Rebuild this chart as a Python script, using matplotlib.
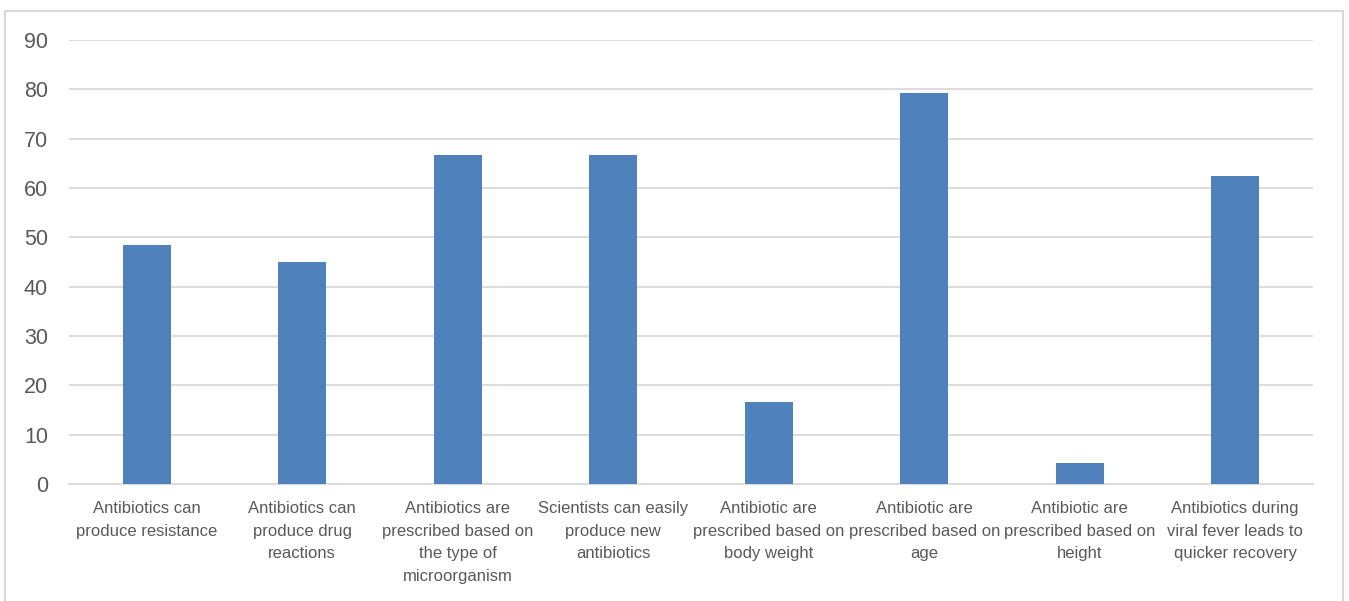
import matplotlib
matplotlib.use('Agg')
import matplotlib.pyplot as plt
from matplotlib.patches import Rectangle

categories = [
    "Antibiotics can\nproduce resistance",
    "Antibiotics can\nproduce drug\nreactions",
    "Antibiotics are\nprescribed based on\nthe type of\nmicroorganism",
    "Scientists can easily\nproduce new\nantibiotics",
    "Antibiotic are\nprescribed based on\nbody weight",
    "Antibiotic are\nprescribed based on\nage",
    "Antibiotic are\nprescribed based on\nheight",
    "Antibiotics during\nviral fever leads to\nquicker recovery",
]
values = [48.5, 44.9, 66.7, 66.7, 16.7, 79.2, 4.2, 62.5]
yticks = list(range(0, 100, 10))

plt.rcParams['font.family'] = ['Liberation Sans', 'DejaVu Sans']
text_color = '#595959'
grid_color = '#D9D9D9'

fig = plt.figure(figsize=(13.49, 6.01), dpi=100)
ax = fig.add_axes([0.0511, 0.1947, 0.9222, 0.7387])

x = range(len(categories))
ax.bar(x, values, width=0.31, color='#4F81BD', zorder=3)

ax.set_xlim(-0.5, len(categories) - 0.5)
ax.set_ylim(0, 90)
ax.set_yticks(yticks)
ax.set_yticklabels([str(t) for t in yticks], fontsize=15.5, color=text_color)
ax.set_xticks(list(x))
ax.set_xticklabels(categories, fontsize=12, color=text_color, linespacing=1.66)
ax.tick_params(axis='both', length=0)
ax.tick_params(axis='x', pad=12)
ax.tick_params(axis='y', pad=15)

ax.grid(axis='y', color=grid_color, linewidth=1.3, zorder=0)
for side in ['top', 'right', 'left']:
    ax.spines[side].set_visible(False)
ax.spines['bottom'].set_color(grid_color)
ax.spines['bottom'].set_linewidth(1.3)

# outer chart frame
fig.patches.append(Rectangle((5 / 1349, -0.05), 1338 / 1349, 1.05 - 11 / 601,
                             transform=fig.transFigure, fill=False,
                             edgecolor=grid_color, linewidth=1.5))

fig.savefig('out.png', dpi=100)
